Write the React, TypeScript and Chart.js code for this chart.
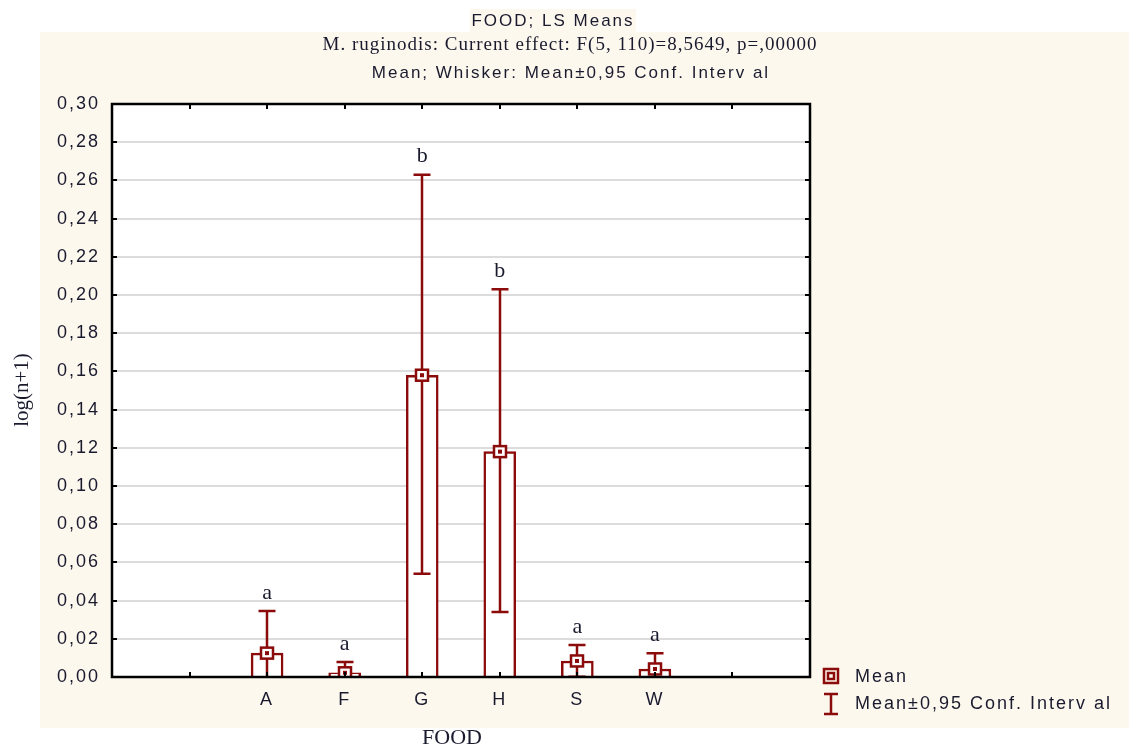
import React, { useEffect, useRef } from "react";
import { Chart, registerables } from "chart.js";

Chart.register(...registerables);

const categories = ["A", "F", "G", "H", "S", "W"];
const positions = [2, 3, 4, 5, 6, 7];
const means = [0.0125, 0.0022, 0.158, 0.118, 0.0084, 0.0042];
const ciLower = [-0.0095, -0.0035, 0.054, 0.034, 0.0001, -0.004];
const ciUpper = [0.0345, 0.0079, 0.263, 0.203, 0.0167, 0.0125];
const groupLetters = ["a", "a", "b", "b", "a", "a"];
const yTicks = [0, 0.02, 0.04, 0.06, 0.08, 0.1, 0.12, 0.14, 0.16, 0.18, 0.2, 0.22, 0.24, 0.26, 0.28, 0.3];

const titleLines = [
  "FOOD; LS Means",
  "M. ruginodis: Current effect: F(5, 110)=8,5649, p=,00000",
  "Mean; Whisker: Mean±0,95 Conf. Interv al",
];
const xAxisTitle = "FOOD";
const yAxisTitle = "log(n+1)";
const legendLabels = ["Mean", "Mean±0,95 Conf. Interv al"];

const RED = "#8b0a0a";
const BEIGE = "#fdf8ee";
const TEXT = "#1a1a2e";
const SANS = "'Liberation Sans', Arial, sans-serif";
const SERIF = "'Liberation Serif', 'Times New Roman', serif";

const decorPlugin = {
  id: "decor",
  beforeDraw(chart: any) {
    const ctx = chart.ctx;
    const a = chart.chartArea;
    ctx.save();
    ctx.fillStyle = "#ffffff";
    ctx.fillRect(0, 0, chart.width, chart.height);
    ctx.fillStyle = BEIGE;
    ctx.fillRect(40, 32, chart.width - 40, 696);
    ctx.fillRect(470, 9, 166, 24);
    ctx.fillStyle = "#ffffff";
    ctx.fillRect(a.left, a.top, a.right - a.left, a.bottom - a.top);
    ctx.restore();
    // wider glyph spacing for axis tick labels (persists into scale drawing)
    (ctx as any).letterSpacing = "2px";
  },
  afterDatasetsDraw(chart: any) {
    const ctx = chart.ctx;
    const a = chart.chartArea;
    const xs = chart.scales.x;
    const ys = chart.scales.y;
    (ctx as any).letterSpacing = "0px";
    ctx.save();
    ctx.beginPath();
    ctx.rect(a.left, a.top, a.right - a.left, a.bottom - a.top);
    ctx.clip();
    ctx.strokeStyle = RED;
    ctx.lineWidth = 2.5;
    positions.forEach((p, i) => {
      const x = Math.round(xs.getPixelForValue(p));
      const yu = ys.getPixelForValue(ciUpper[i]);
      const yl = ys.getPixelForValue(ciLower[i]);
      const ym = ys.getPixelForValue(means[i]);
      ctx.beginPath();
      ctx.moveTo(x, yu);
      ctx.lineTo(x, yl);
      ctx.moveTo(x - 8.5, yu);
      ctx.lineTo(x + 8.5, yu);
      ctx.moveTo(x - 8.5, yl);
      ctx.lineTo(x + 8.5, yl);
      ctx.stroke();
      // mean marker
      ctx.fillStyle = "#ffffff";
      ctx.fillRect(x - 6, ym - 5.5, 12, 11);
      ctx.strokeRect(x - 6, ym - 5.5, 12, 11);
      ctx.fillStyle = RED;
      ctx.fillRect(x - 2, ym - 2, 4, 4);
    });
    ctx.restore();

    ctx.save();
    // letters
    ctx.fillStyle = TEXT;
    ctx.font = `22px ${SERIF}`;
    ctx.textAlign = "center";
    ctx.textBaseline = "middle";
    positions.forEach((p, i) => {
      const x = xs.getPixelForValue(p);
      const yu = ys.getPixelForValue(ciUpper[i]);
      ctx.fillText(groupLetters[i], x, yu - 18);
    });

    // inward ticks
    ctx.strokeStyle = "#000";
    ctx.lineWidth = 2;
    ctx.beginPath();
    yTicks.forEach((t) => {
      const y = Math.round(ys.getPixelForValue(t));
      ctx.moveTo(a.left, y);
      ctx.lineTo(a.left + 5, y);
      ctx.moveTo(a.right, y);
      ctx.lineTo(a.right - 5, y);
    });
    for (let k = 1; k <= 8; k++) {
      const x = Math.round(xs.getPixelForValue(k));
      ctx.moveTo(x, a.bottom);
      ctx.lineTo(x, a.bottom - 5);
      ctx.moveTo(x, a.top);
      ctx.lineTo(x, a.top + 5);
    }
    ctx.stroke();
    // border
    ctx.lineWidth = 2.5;
    ctx.strokeRect(a.left, a.top, a.right - a.left, a.bottom - a.top);

    // titles
    ctx.fillStyle = TEXT;
    ctx.textAlign = "center";
    ctx.font = `17px ${SANS}`;
    (ctx as any).letterSpacing = "2px";
    ctx.fillText(titleLines[0], 553, 21);
    ctx.font = `19px ${SERIF}`;
    (ctx as any).letterSpacing = "1px";
    ctx.fillText(titleLines[1], 570, 45);
    ctx.font = `17px ${SANS}`;
    (ctx as any).letterSpacing = "2px";
    ctx.fillText(titleLines[2], 571, 73);

    // axis titles
    (ctx as any).letterSpacing = "0px";
    ctx.font = `22px ${SERIF}`;
    ctx.fillText(xAxisTitle, 452, 738);
    ctx.save();
    ctx.translate(22, 390);
    ctx.rotate(-Math.PI / 2);
    ctx.font = `21px ${SERIF}`;
    ctx.fillText(yAxisTitle, 0, 0);
    ctx.restore();

    // legend
    ctx.strokeStyle = RED;
    ctx.lineWidth = 2.5;
    ctx.strokeRect(824, 669, 14, 14);
    ctx.strokeRect(828, 673, 6, 6);
    ctx.beginPath();
    ctx.moveTo(831, 694);
    ctx.lineTo(831, 714);
    ctx.moveTo(824, 694);
    ctx.lineTo(838, 694);
    ctx.moveTo(824, 714);
    ctx.lineTo(838, 714);
    ctx.stroke();
    ctx.fillStyle = TEXT;
    ctx.textAlign = "left";
    ctx.font = `18px ${SANS}`;
    (ctx as any).letterSpacing = "2px";
    ctx.fillText(legendLabels[0], 855, 677);
    ctx.fillText(legendLabels[1], 855, 704);
    ctx.restore();
    (ctx as any).letterSpacing = "0px";
  },
};

export default function App() {
  const ref = useRef<HTMLCanvasElement>(null);
  useEffect(() => {
    document.body.style.margin = "0";
    const chart = new Chart(ref.current!, {
      type: "bar",
      data: {
        datasets: [
          {
            label: "Mean",
            data: positions.map((p, i) => ({ x: p, y: means[i] })),
            backgroundColor: "#ffffff",
            borderColor: RED,
            borderWidth: 2.5,
            barThickness: 32,
          },
        ],
      },
      options: {
        animation: false,
        responsive: false,
        events: [],
        layout: { padding: { left: 0, right: 319, top: 104, bottom: 0 } },
        plugins: { legend: { display: false }, tooltip: { enabled: false }, title: { display: false } },
        scales: {
          x: {
            type: "linear",
            offset: false,
            min: 0,
            max: 9,
            afterFit: (s: any) => {
              s.height = 749 - 677;
            },
            afterBuildTicks: (s: any) => {
              s.ticks = positions.map((p) => ({ value: p }));
            },
            ticks: {
              autoSkip: false,
              maxRotation: 0,
              padding: 12,
              color: TEXT,
              font: { family: SANS, size: 18 },
              callback: (v: any) => {
                const idx = positions.indexOf(Number(v));
                return idx >= 0 ? categories[idx] : "";
              },
            },
            grid: { display: false, drawTicks: false, offset: false },
            border: { display: false },
            title: { display: false },
          },
          y: {
            type: "linear",
            min: 0,
            max: 0.3,
            afterFit: (s: any) => {
              s.width = 112;
            },
            afterBuildTicks: (s: any) => {
              s.ticks = yTicks.map((v) => ({ value: v }));
            },
            ticks: {
              padding: 12,
              color: TEXT,
              font: { family: SANS, size: 18 },
              callback: (v: any) => Number(v).toFixed(2).replace(".", ","),
            },
            grid: { color: "#dcdcdc", lineWidth: 2, drawTicks: false },
            border: { display: false },
            title: { display: false },
          },
        },
      },
      plugins: [decorPlugin],
    });
    return () => chart.destroy();
  }, []);
  return (
    <div style={{ width: 1129, height: 749 }}>
      <canvas ref={ref} width={1129} height={749} style={{ display: "block" }} />
    </div>
  );
}
